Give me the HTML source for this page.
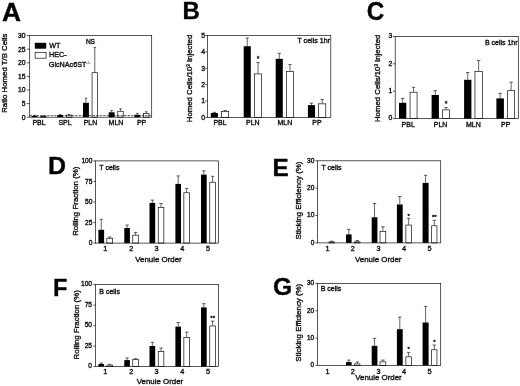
<!DOCTYPE html>
<html lang="en"><head><meta charset="utf-8"><title>Figure</title>
<style>
html,body{margin:0;padding:0;background:#fff;}
body{width:520px;height:386px;overflow:hidden;}
svg{display:block;font-family:"Liberation Sans", Arial, Helvetica, sans-serif;fill:#111;filter:blur(0.35px);}
text{stroke:#111;stroke-width:0.36px;}
</style></head><body>
<svg width="520" height="386" viewBox="0 0 520 386">
<rect x="0" y="0" width="520" height="386" fill="#fff"/>
<line x1="34.55" y1="115.84" x2="34.55" y2="115.30" stroke="#111" stroke-width="0.65" />
<line x1="33.30" y1="115.30" x2="35.80" y2="115.30" stroke="#111" stroke-width="0.65" />
<rect x="31.60" y="115.84" width="5.90" height="1.36" fill="#000"/>
<line x1="43.40" y1="116.11" x2="43.40" y2="115.84" stroke="#111" stroke-width="0.65" />
<line x1="42.15" y1="115.84" x2="44.65" y2="115.84" stroke="#111" stroke-width="0.65" />
<rect x="40.65" y="116.46" width="5.50" height="0.74" fill="#fff" stroke="#111" stroke-width="0.7"/>
<line x1="60.25" y1="115.02" x2="60.25" y2="114.48" stroke="#111" stroke-width="0.65" />
<line x1="59.00" y1="114.48" x2="61.50" y2="114.48" stroke="#111" stroke-width="0.65" />
<rect x="57.30" y="115.02" width="5.90" height="2.18" fill="#000"/>
<line x1="69.10" y1="114.75" x2="69.10" y2="114.48" stroke="#111" stroke-width="0.65" />
<line x1="67.85" y1="114.48" x2="70.35" y2="114.48" stroke="#111" stroke-width="0.65" />
<rect x="66.35" y="115.10" width="5.50" height="2.10" fill="#fff" stroke="#111" stroke-width="0.7"/>
<line x1="85.95" y1="102.78" x2="85.95" y2="98.16" stroke="#111" stroke-width="0.65" />
<line x1="84.70" y1="98.16" x2="87.20" y2="98.16" stroke="#111" stroke-width="0.65" />
<rect x="83.00" y="102.78" width="5.90" height="14.42" fill="#000"/>
<line x1="94.80" y1="72.32" x2="94.80" y2="47.57" stroke="#111" stroke-width="0.65" />
<line x1="93.55" y1="47.57" x2="96.05" y2="47.57" stroke="#111" stroke-width="0.65" />
<rect x="92.05" y="72.67" width="5.50" height="44.53" fill="#fff" stroke="#111" stroke-width="0.7"/>
<line x1="111.65" y1="112.30" x2="111.65" y2="110.40" stroke="#111" stroke-width="0.65" />
<line x1="110.40" y1="110.40" x2="112.90" y2="110.40" stroke="#111" stroke-width="0.65" />
<rect x="108.70" y="112.30" width="5.90" height="4.90" fill="#000"/>
<line x1="120.50" y1="110.94" x2="120.50" y2="108.77" stroke="#111" stroke-width="0.65" />
<line x1="119.25" y1="108.77" x2="121.75" y2="108.77" stroke="#111" stroke-width="0.65" />
<rect x="117.75" y="111.29" width="5.50" height="5.91" fill="#fff" stroke="#111" stroke-width="0.7"/>
<line x1="137.35" y1="114.75" x2="137.35" y2="113.39" stroke="#111" stroke-width="0.65" />
<line x1="136.10" y1="113.39" x2="138.60" y2="113.39" stroke="#111" stroke-width="0.65" />
<rect x="134.40" y="114.75" width="5.90" height="2.45" fill="#000"/>
<line x1="146.20" y1="113.12" x2="146.20" y2="111.76" stroke="#111" stroke-width="0.65" />
<line x1="144.95" y1="111.76" x2="147.45" y2="111.76" stroke="#111" stroke-width="0.65" />
<rect x="143.45" y="113.47" width="5.50" height="3.73" fill="#fff" stroke="#111" stroke-width="0.7"/>
<rect x="29.70" y="35.60" width="122.00" height="81.60" fill="none" stroke="#111" stroke-width="0.7"/>
<line x1="27.00" y1="117.20" x2="29.70" y2="117.20" stroke="#111" stroke-width="0.7" />
<text x="25.50" y="119.55" font-size="6.8" text-anchor="end" font-weight="normal" >0</text>
<line x1="27.00" y1="103.60" x2="29.70" y2="103.60" stroke="#111" stroke-width="0.7" />
<text x="25.50" y="105.95" font-size="6.8" text-anchor="end" font-weight="normal" >5</text>
<line x1="27.00" y1="90.00" x2="29.70" y2="90.00" stroke="#111" stroke-width="0.7" />
<text x="25.50" y="92.35" font-size="6.8" text-anchor="end" font-weight="normal" >10</text>
<line x1="27.00" y1="76.40" x2="29.70" y2="76.40" stroke="#111" stroke-width="0.7" />
<text x="25.50" y="78.75" font-size="6.8" text-anchor="end" font-weight="normal" >15</text>
<line x1="27.00" y1="62.80" x2="29.70" y2="62.80" stroke="#111" stroke-width="0.7" />
<text x="25.50" y="65.15" font-size="6.8" text-anchor="end" font-weight="normal" >20</text>
<line x1="27.00" y1="49.20" x2="29.70" y2="49.20" stroke="#111" stroke-width="0.7" />
<text x="25.50" y="51.55" font-size="6.8" text-anchor="end" font-weight="normal" >25</text>
<line x1="27.00" y1="35.60" x2="29.70" y2="35.60" stroke="#111" stroke-width="0.7" />
<text x="25.50" y="37.95" font-size="6.8" text-anchor="end" font-weight="normal" >30</text>
<text x="39.00" y="125.10" font-size="7" text-anchor="middle" font-weight="normal" >PBL</text>
<text x="65.00" y="125.10" font-size="7" text-anchor="middle" font-weight="normal" >SPL</text>
<text x="90.50" y="125.10" font-size="7" text-anchor="middle" font-weight="normal" >PLN</text>
<text x="116.00" y="125.10" font-size="7" text-anchor="middle" font-weight="normal" >MLN</text>
<text x="141.60" y="125.10" font-size="7" text-anchor="middle" font-weight="normal" >PP</text>
<text x="7.30" y="73.20" font-size="7.8" text-anchor="middle" font-weight="normal" transform="rotate(-90 7.30 73.20)" >Ratio Homed T/B Cells</text>
<text x="90.40" y="44.10" font-size="6.5" text-anchor="middle" font-weight="normal" >NS</text>
<text x="49.20" y="48.10" font-size="7.2" text-anchor="start" font-weight="normal" >WT</text>
<text x="49.00" y="57.40" font-size="7.2" text-anchor="start" font-weight="normal" >HEC-</text>
<text x="48.80" y="67.20" font-size="7.2" text-anchor="start" font-weight="normal" >GlcNAc6ST<tspan font-size="4.3" dy="-3.3" stroke="none">-/-</tspan></text>
<text transform="translate(1.90 20.60) scale(1.036 1)" font-size="25.4" font-weight="bold" fill="#000" stroke="none">A</text>
<line x1="214.35" y1="112.98" x2="214.35" y2="112.33" stroke="#111" stroke-width="0.65" />
<line x1="212.65" y1="112.33" x2="216.05" y2="112.33" stroke="#111" stroke-width="0.65" />
<rect x="210.80" y="112.98" width="7.10" height="4.42" fill="#000"/>
<line x1="225.10" y1="111.18" x2="225.10" y2="110.53" stroke="#111" stroke-width="0.65" />
<line x1="223.40" y1="110.53" x2="226.80" y2="110.53" stroke="#111" stroke-width="0.65" />
<rect x="221.55" y="111.53" width="7.10" height="5.87" fill="#fff" stroke="#111" stroke-width="0.7"/>
<line x1="247.25" y1="46.23" x2="247.25" y2="38.05" stroke="#111" stroke-width="0.65" />
<line x1="245.55" y1="38.05" x2="248.95" y2="38.05" stroke="#111" stroke-width="0.65" />
<rect x="243.70" y="46.23" width="7.10" height="71.17" fill="#000"/>
<line x1="258.00" y1="73.56" x2="258.00" y2="62.59" stroke="#111" stroke-width="0.65" />
<line x1="256.30" y1="62.59" x2="259.70" y2="62.59" stroke="#111" stroke-width="0.65" />
<rect x="254.45" y="73.91" width="7.10" height="43.49" fill="#fff" stroke="#111" stroke-width="0.7"/>
<line x1="279.25" y1="58.83" x2="279.25" y2="53.27" stroke="#111" stroke-width="0.65" />
<line x1="277.55" y1="53.27" x2="280.95" y2="53.27" stroke="#111" stroke-width="0.65" />
<rect x="275.70" y="58.83" width="7.10" height="58.57" fill="#000"/>
<line x1="290.00" y1="71.26" x2="290.00" y2="64.56" stroke="#111" stroke-width="0.65" />
<line x1="288.30" y1="64.56" x2="291.70" y2="64.56" stroke="#111" stroke-width="0.65" />
<rect x="286.45" y="71.61" width="7.10" height="45.79" fill="#fff" stroke="#111" stroke-width="0.7"/>
<line x1="311.45" y1="105.13" x2="311.45" y2="103.17" stroke="#111" stroke-width="0.65" />
<line x1="309.75" y1="103.17" x2="313.15" y2="103.17" stroke="#111" stroke-width="0.65" />
<rect x="307.90" y="105.13" width="7.10" height="12.27" fill="#000"/>
<line x1="322.20" y1="103.49" x2="322.20" y2="99.40" stroke="#111" stroke-width="0.65" />
<line x1="320.50" y1="99.40" x2="323.90" y2="99.40" stroke="#111" stroke-width="0.65" />
<rect x="318.65" y="103.84" width="7.10" height="13.56" fill="#fff" stroke="#111" stroke-width="0.7"/>
<rect x="207.50" y="35.60" width="123.30" height="81.80" fill="none" stroke="#111" stroke-width="0.7"/>
<line x1="205.20" y1="117.40" x2="207.50" y2="117.40" stroke="#111" stroke-width="0.7" />
<text x="205.00" y="119.75" font-size="6.8" text-anchor="end" font-weight="normal" >0</text>
<line x1="205.20" y1="101.04" x2="207.50" y2="101.04" stroke="#111" stroke-width="0.7" />
<text x="205.00" y="103.39" font-size="6.8" text-anchor="end" font-weight="normal" >1</text>
<line x1="205.20" y1="84.68" x2="207.50" y2="84.68" stroke="#111" stroke-width="0.7" />
<text x="205.00" y="87.03" font-size="6.8" text-anchor="end" font-weight="normal" >2</text>
<line x1="205.20" y1="68.32" x2="207.50" y2="68.32" stroke="#111" stroke-width="0.7" />
<text x="205.00" y="70.67" font-size="6.8" text-anchor="end" font-weight="normal" >3</text>
<line x1="205.20" y1="51.96" x2="207.50" y2="51.96" stroke="#111" stroke-width="0.7" />
<text x="205.00" y="54.31" font-size="6.8" text-anchor="end" font-weight="normal" >4</text>
<line x1="205.20" y1="35.60" x2="207.50" y2="35.60" stroke="#111" stroke-width="0.7" />
<text x="205.00" y="37.95" font-size="6.8" text-anchor="end" font-weight="normal" >5</text>
<text x="220.00" y="125.10" font-size="7" text-anchor="middle" font-weight="normal" >PBL</text>
<text x="252.80" y="125.10" font-size="7" text-anchor="middle" font-weight="normal" >PLN</text>
<text x="284.80" y="125.10" font-size="7" text-anchor="middle" font-weight="normal" >MLN</text>
<text x="317.00" y="125.10" font-size="7" text-anchor="middle" font-weight="normal" >PP</text>
<text x="192.30" y="78.50" font-size="7.8" text-anchor="middle" font-weight="normal" transform="rotate(-90 192.30 78.50)" >Homed Cells/10<tspan font-size="4.5" dy="-2.6">3</tspan><tspan dy="2.6"> Injected</tspan></text>
<text x="330.00" y="42.60" font-size="7.1" text-anchor="end" font-weight="normal" >T cells 1hr</text>
<text x="258.00" y="60.80" font-size="7" text-anchor="middle" font-weight="normal" >*</text>
<text transform="translate(182.50 18.60) scale(0.97 1)" font-size="24.8" font-weight="bold" fill="#000" stroke="none">B</text>
<line x1="402.65" y1="102.80" x2="402.65" y2="98.40" stroke="#111" stroke-width="0.65" />
<line x1="400.95" y1="98.40" x2="404.35" y2="98.40" stroke="#111" stroke-width="0.65" />
<rect x="399.00" y="102.80" width="7.30" height="15.80" fill="#000"/>
<line x1="413.55" y1="91.90" x2="413.55" y2="87.30" stroke="#111" stroke-width="0.65" />
<line x1="411.85" y1="87.30" x2="415.25" y2="87.30" stroke="#111" stroke-width="0.65" />
<rect x="410.05" y="92.25" width="7.00" height="26.35" fill="#fff" stroke="#111" stroke-width="0.7"/>
<line x1="435.25" y1="95.00" x2="435.25" y2="90.70" stroke="#111" stroke-width="0.65" />
<line x1="433.55" y1="90.70" x2="436.95" y2="90.70" stroke="#111" stroke-width="0.65" />
<rect x="431.60" y="95.00" width="7.30" height="23.60" fill="#000"/>
<line x1="446.00" y1="109.50" x2="446.00" y2="107.50" stroke="#111" stroke-width="0.65" />
<line x1="444.30" y1="107.50" x2="447.70" y2="107.50" stroke="#111" stroke-width="0.65" />
<rect x="442.65" y="109.85" width="6.70" height="8.75" fill="#fff" stroke="#111" stroke-width="0.7"/>
<line x1="467.75" y1="79.80" x2="467.75" y2="72.50" stroke="#111" stroke-width="0.65" />
<line x1="466.05" y1="72.50" x2="469.45" y2="72.50" stroke="#111" stroke-width="0.65" />
<rect x="464.10" y="79.80" width="7.30" height="38.80" fill="#000"/>
<line x1="478.65" y1="71.10" x2="478.65" y2="60.40" stroke="#111" stroke-width="0.65" />
<line x1="476.95" y1="60.40" x2="480.35" y2="60.40" stroke="#111" stroke-width="0.65" />
<rect x="474.95" y="71.45" width="7.40" height="47.15" fill="#fff" stroke="#111" stroke-width="0.7"/>
<line x1="500.15" y1="98.40" x2="500.15" y2="93.30" stroke="#111" stroke-width="0.65" />
<line x1="498.45" y1="93.30" x2="501.85" y2="93.30" stroke="#111" stroke-width="0.65" />
<rect x="496.40" y="98.40" width="7.50" height="20.20" fill="#000"/>
<line x1="511.15" y1="90.30" x2="511.15" y2="82.20" stroke="#111" stroke-width="0.65" />
<line x1="509.45" y1="82.20" x2="512.85" y2="82.20" stroke="#111" stroke-width="0.65" />
<rect x="507.65" y="90.65" width="7.00" height="27.95" fill="#fff" stroke="#111" stroke-width="0.7"/>
<rect x="395.20" y="36.40" width="123.10" height="82.20" fill="none" stroke="#111" stroke-width="0.7"/>
<line x1="392.90" y1="118.60" x2="395.20" y2="118.60" stroke="#111" stroke-width="0.7" />
<text x="392.30" y="120.30" font-size="6.8" text-anchor="end" font-weight="normal" >0</text>
<line x1="392.90" y1="91.20" x2="395.20" y2="91.20" stroke="#111" stroke-width="0.7" />
<text x="392.30" y="92.90" font-size="6.8" text-anchor="end" font-weight="normal" >1</text>
<line x1="392.90" y1="63.80" x2="395.20" y2="63.80" stroke="#111" stroke-width="0.7" />
<text x="392.30" y="65.50" font-size="6.8" text-anchor="end" font-weight="normal" >2</text>
<line x1="392.90" y1="36.40" x2="395.20" y2="36.40" stroke="#111" stroke-width="0.7" />
<text x="392.30" y="38.10" font-size="6.8" text-anchor="end" font-weight="normal" >3</text>
<text x="408.20" y="126.60" font-size="7" text-anchor="middle" font-weight="normal" >PBL</text>
<text x="440.60" y="126.60" font-size="7" text-anchor="middle" font-weight="normal" >PLN</text>
<text x="473.40" y="126.60" font-size="7" text-anchor="middle" font-weight="normal" >MLN</text>
<text x="505.70" y="126.60" font-size="7" text-anchor="middle" font-weight="normal" >PP</text>
<text x="380.50" y="78.30" font-size="7.8" text-anchor="middle" font-weight="normal" transform="rotate(-90 380.50 78.30)" >Homed Cells/10<tspan font-size="4.5" dy="-2.6">3</tspan><tspan dy="2.6"> Injected</tspan></text>
<text x="517.60" y="44.50" font-size="7.0" text-anchor="end" font-weight="normal" >B cells 1hr</text>
<text x="446.00" y="105.50" font-size="7" text-anchor="middle" font-weight="normal" >*</text>
<text transform="translate(366.80 19.70) scale(0.955 1)" font-size="25.4" font-weight="bold" fill="#000" stroke="none">C</text>
<line x1="101.25" y1="229.80" x2="101.25" y2="219.30" stroke="#111" stroke-width="0.65" />
<line x1="99.55" y1="219.30" x2="102.95" y2="219.30" stroke="#111" stroke-width="0.65" />
<rect x="98.40" y="229.80" width="5.70" height="13.30" fill="#000"/>
<line x1="109.75" y1="237.90" x2="109.75" y2="237.00" stroke="#111" stroke-width="0.65" />
<line x1="108.05" y1="237.00" x2="111.45" y2="237.00" stroke="#111" stroke-width="0.65" />
<rect x="106.85" y="238.25" width="5.80" height="4.85" fill="#fff" stroke="#111" stroke-width="0.7"/>
<line x1="127.10" y1="228.00" x2="127.10" y2="225.00" stroke="#111" stroke-width="0.65" />
<line x1="125.40" y1="225.00" x2="128.80" y2="225.00" stroke="#111" stroke-width="0.65" />
<rect x="124.30" y="228.00" width="5.60" height="15.10" fill="#000"/>
<line x1="135.60" y1="234.80" x2="135.60" y2="232.40" stroke="#111" stroke-width="0.65" />
<line x1="133.90" y1="232.40" x2="137.30" y2="232.40" stroke="#111" stroke-width="0.65" />
<rect x="132.75" y="235.15" width="5.70" height="7.95" fill="#fff" stroke="#111" stroke-width="0.7"/>
<line x1="152.35" y1="202.90" x2="152.35" y2="200.10" stroke="#111" stroke-width="0.65" />
<line x1="150.65" y1="200.10" x2="154.05" y2="200.10" stroke="#111" stroke-width="0.65" />
<rect x="149.50" y="202.90" width="5.70" height="40.20" fill="#000"/>
<line x1="161.05" y1="207.20" x2="161.05" y2="203.50" stroke="#111" stroke-width="0.65" />
<line x1="159.35" y1="203.50" x2="162.75" y2="203.50" stroke="#111" stroke-width="0.65" />
<rect x="158.25" y="207.55" width="5.60" height="35.55" fill="#fff" stroke="#111" stroke-width="0.7"/>
<line x1="178.20" y1="183.90" x2="178.20" y2="175.90" stroke="#111" stroke-width="0.65" />
<line x1="176.50" y1="175.90" x2="179.90" y2="175.90" stroke="#111" stroke-width="0.65" />
<rect x="175.40" y="183.90" width="5.60" height="59.20" fill="#000"/>
<line x1="186.70" y1="192.40" x2="186.70" y2="188.40" stroke="#111" stroke-width="0.65" />
<line x1="185.00" y1="188.40" x2="188.40" y2="188.40" stroke="#111" stroke-width="0.65" />
<rect x="183.85" y="192.75" width="5.70" height="50.35" fill="#fff" stroke="#111" stroke-width="0.7"/>
<line x1="203.85" y1="174.60" x2="203.85" y2="170.80" stroke="#111" stroke-width="0.65" />
<line x1="202.15" y1="170.80" x2="205.55" y2="170.80" stroke="#111" stroke-width="0.65" />
<rect x="201.00" y="174.60" width="5.70" height="68.50" fill="#000"/>
<line x1="212.60" y1="181.90" x2="212.60" y2="176.30" stroke="#111" stroke-width="0.65" />
<line x1="210.90" y1="176.30" x2="214.30" y2="176.30" stroke="#111" stroke-width="0.65" />
<rect x="209.75" y="182.25" width="5.70" height="60.85" fill="#fff" stroke="#111" stroke-width="0.7"/>
<rect x="95.50" y="160.90" width="123.00" height="82.20" fill="none" stroke="#111" stroke-width="0.7"/>
<line x1="93.40" y1="243.10" x2="95.50" y2="243.10" stroke="#111" stroke-width="0.7" />
<text x="92.40" y="245.45" font-size="6.6" text-anchor="end" font-weight="normal" >0</text>
<line x1="93.40" y1="222.55" x2="95.50" y2="222.55" stroke="#111" stroke-width="0.7" />
<text x="92.40" y="224.90" font-size="6.6" text-anchor="end" font-weight="normal" >25</text>
<line x1="93.40" y1="202.00" x2="95.50" y2="202.00" stroke="#111" stroke-width="0.7" />
<text x="92.40" y="204.35" font-size="6.6" text-anchor="end" font-weight="normal" >50</text>
<line x1="93.40" y1="181.45" x2="95.50" y2="181.45" stroke="#111" stroke-width="0.7" />
<text x="92.40" y="183.80" font-size="6.6" text-anchor="end" font-weight="normal" >75</text>
<line x1="93.40" y1="160.90" x2="95.50" y2="160.90" stroke="#111" stroke-width="0.7" />
<text x="92.40" y="163.25" font-size="6.6" text-anchor="end" font-weight="normal" >100</text>
<text x="105.40" y="251.20" font-size="7.3" text-anchor="middle" font-weight="normal" >1</text>
<text x="131.25" y="251.20" font-size="7.3" text-anchor="middle" font-weight="normal" >2</text>
<text x="156.55" y="251.20" font-size="7.3" text-anchor="middle" font-weight="normal" >3</text>
<text x="182.35" y="251.20" font-size="7.3" text-anchor="middle" font-weight="normal" >4</text>
<text x="208.10" y="251.20" font-size="7.3" text-anchor="middle" font-weight="normal" >5</text>
<text x="78.10" y="201.20" font-size="7.9" text-anchor="middle" font-weight="normal" transform="rotate(-90 78.10 201.20)" >Rolling Fraction (%)</text>
<text x="158.50" y="261.90" font-size="7.9" text-anchor="middle" font-weight="normal" >Venule Order</text>
<text x="99.30" y="169.60" font-size="7.0" text-anchor="start" font-weight="normal" >T cells</text>
<text transform="translate(48.00 174.40) scale(1.027 1)" font-size="24.3" font-weight="bold" fill="#000" stroke="none">D</text>
<line x1="101.25" y1="364.00" x2="101.25" y2="363.00" stroke="#111" stroke-width="0.65" />
<line x1="99.55" y1="363.00" x2="102.95" y2="363.00" stroke="#111" stroke-width="0.65" />
<rect x="98.40" y="364.00" width="5.70" height="2.60" fill="#000"/>
<line x1="109.75" y1="364.80" x2="109.75" y2="364.30" stroke="#111" stroke-width="0.65" />
<line x1="108.05" y1="364.30" x2="111.45" y2="364.30" stroke="#111" stroke-width="0.65" />
<rect x="106.85" y="365.15" width="5.80" height="1.45" fill="#fff" stroke="#111" stroke-width="0.7"/>
<line x1="127.10" y1="360.10" x2="127.10" y2="357.90" stroke="#111" stroke-width="0.65" />
<line x1="125.40" y1="357.90" x2="128.80" y2="357.90" stroke="#111" stroke-width="0.65" />
<rect x="124.30" y="360.10" width="5.60" height="6.50" fill="#000"/>
<line x1="135.60" y1="359.30" x2="135.60" y2="358.70" stroke="#111" stroke-width="0.65" />
<line x1="133.90" y1="358.70" x2="137.30" y2="358.70" stroke="#111" stroke-width="0.65" />
<rect x="132.75" y="359.65" width="5.70" height="6.95" fill="#fff" stroke="#111" stroke-width="0.7"/>
<line x1="152.35" y1="346.00" x2="152.35" y2="342.30" stroke="#111" stroke-width="0.65" />
<line x1="150.65" y1="342.30" x2="154.05" y2="342.30" stroke="#111" stroke-width="0.65" />
<rect x="149.50" y="346.00" width="5.70" height="20.60" fill="#000"/>
<line x1="161.05" y1="351.00" x2="161.05" y2="348.00" stroke="#111" stroke-width="0.65" />
<line x1="159.35" y1="348.00" x2="162.75" y2="348.00" stroke="#111" stroke-width="0.65" />
<rect x="158.25" y="351.35" width="5.60" height="15.25" fill="#fff" stroke="#111" stroke-width="0.7"/>
<line x1="178.20" y1="326.60" x2="178.20" y2="322.50" stroke="#111" stroke-width="0.65" />
<line x1="176.50" y1="322.50" x2="179.90" y2="322.50" stroke="#111" stroke-width="0.65" />
<rect x="175.40" y="326.60" width="5.60" height="40.00" fill="#000"/>
<line x1="186.70" y1="337.30" x2="186.70" y2="332.20" stroke="#111" stroke-width="0.65" />
<line x1="185.00" y1="332.20" x2="188.40" y2="332.20" stroke="#111" stroke-width="0.65" />
<rect x="183.85" y="337.65" width="5.70" height="28.95" fill="#fff" stroke="#111" stroke-width="0.7"/>
<line x1="203.85" y1="307.40" x2="203.85" y2="303.70" stroke="#111" stroke-width="0.65" />
<line x1="202.15" y1="303.70" x2="205.55" y2="303.70" stroke="#111" stroke-width="0.65" />
<rect x="201.00" y="307.40" width="5.70" height="59.20" fill="#000"/>
<line x1="212.60" y1="325.60" x2="212.60" y2="321.10" stroke="#111" stroke-width="0.65" />
<line x1="210.90" y1="321.10" x2="214.30" y2="321.10" stroke="#111" stroke-width="0.65" />
<rect x="209.75" y="325.95" width="5.70" height="40.65" fill="#fff" stroke="#111" stroke-width="0.7"/>
<rect x="95.50" y="284.60" width="123.00" height="82.00" fill="none" stroke="#111" stroke-width="0.7"/>
<line x1="93.40" y1="366.60" x2="95.50" y2="366.60" stroke="#111" stroke-width="0.7" />
<text x="92.00" y="368.20" font-size="6.6" text-anchor="end" font-weight="normal" >0</text>
<line x1="93.40" y1="346.10" x2="95.50" y2="346.10" stroke="#111" stroke-width="0.7" />
<text x="92.00" y="347.70" font-size="6.6" text-anchor="end" font-weight="normal" >25</text>
<line x1="93.40" y1="325.60" x2="95.50" y2="325.60" stroke="#111" stroke-width="0.7" />
<text x="92.00" y="327.20" font-size="6.6" text-anchor="end" font-weight="normal" >50</text>
<line x1="93.40" y1="305.10" x2="95.50" y2="305.10" stroke="#111" stroke-width="0.7" />
<text x="92.00" y="306.70" font-size="6.6" text-anchor="end" font-weight="normal" >75</text>
<line x1="93.40" y1="284.60" x2="95.50" y2="284.60" stroke="#111" stroke-width="0.7" />
<text x="92.00" y="286.20" font-size="6.6" text-anchor="end" font-weight="normal" >100</text>
<text x="105.40" y="374.30" font-size="7.3" text-anchor="middle" font-weight="normal" >1</text>
<text x="131.25" y="374.30" font-size="7.3" text-anchor="middle" font-weight="normal" >2</text>
<text x="156.55" y="374.30" font-size="7.3" text-anchor="middle" font-weight="normal" >3</text>
<text x="182.35" y="374.30" font-size="7.3" text-anchor="middle" font-weight="normal" >4</text>
<text x="208.10" y="374.30" font-size="7.3" text-anchor="middle" font-weight="normal" >5</text>
<text x="79.20" y="324.80" font-size="7.9" text-anchor="middle" font-weight="normal" transform="rotate(-90 79.20 324.80)" >Rolling Fraction (%)</text>
<text x="160.00" y="383.90" font-size="7.9" text-anchor="middle" font-weight="normal" >Venule Order</text>
<text x="212.70" y="319.50" font-size="6" text-anchor="middle" font-weight="normal" >**</text>
<text x="99.30" y="294.40" font-size="7.0" text-anchor="start" font-weight="normal" >B cells</text>
<text transform="translate(53.00 295.60) scale(0.97 1)" font-size="24.4" font-weight="bold" fill="#000" stroke="none">F</text>
<line x1="331.70" y1="241.60" x2="331.70" y2="241.20" stroke="#111" stroke-width="0.65" />
<line x1="330.00" y1="241.20" x2="333.40" y2="241.20" stroke="#111" stroke-width="0.65" />
<rect x="328.95" y="241.95" width="5.50" height="0.95" fill="#fff" stroke="#111" stroke-width="0.7"/>
<line x1="348.80" y1="234.40" x2="348.80" y2="229.40" stroke="#111" stroke-width="0.65" />
<line x1="347.10" y1="229.40" x2="350.50" y2="229.40" stroke="#111" stroke-width="0.65" />
<rect x="346.00" y="234.40" width="5.60" height="8.50" fill="#000"/>
<line x1="357.30" y1="241.50" x2="357.30" y2="240.50" stroke="#111" stroke-width="0.65" />
<line x1="355.60" y1="240.50" x2="359.00" y2="240.50" stroke="#111" stroke-width="0.65" />
<rect x="354.65" y="241.85" width="5.30" height="1.05" fill="#fff" stroke="#111" stroke-width="0.7"/>
<line x1="374.55" y1="217.30" x2="374.55" y2="203.50" stroke="#111" stroke-width="0.65" />
<line x1="372.85" y1="203.50" x2="376.25" y2="203.50" stroke="#111" stroke-width="0.65" />
<rect x="371.70" y="217.30" width="5.70" height="25.60" fill="#000"/>
<line x1="382.90" y1="231.00" x2="382.90" y2="226.80" stroke="#111" stroke-width="0.65" />
<line x1="381.20" y1="226.80" x2="384.60" y2="226.80" stroke="#111" stroke-width="0.65" />
<rect x="380.05" y="231.35" width="5.70" height="11.55" fill="#fff" stroke="#111" stroke-width="0.7"/>
<line x1="399.80" y1="204.50" x2="399.80" y2="196.50" stroke="#111" stroke-width="0.65" />
<line x1="398.10" y1="196.50" x2="401.50" y2="196.50" stroke="#111" stroke-width="0.65" />
<rect x="396.90" y="204.50" width="5.80" height="38.40" fill="#000"/>
<line x1="408.65" y1="224.70" x2="408.65" y2="218.30" stroke="#111" stroke-width="0.65" />
<line x1="406.95" y1="218.30" x2="410.35" y2="218.30" stroke="#111" stroke-width="0.65" />
<rect x="405.85" y="225.05" width="5.60" height="17.85" fill="#fff" stroke="#111" stroke-width="0.7"/>
<line x1="425.60" y1="182.90" x2="425.60" y2="175.30" stroke="#111" stroke-width="0.65" />
<line x1="423.90" y1="175.30" x2="427.30" y2="175.30" stroke="#111" stroke-width="0.65" />
<rect x="422.60" y="182.90" width="6.00" height="60.00" fill="#000"/>
<line x1="434.30" y1="225.40" x2="434.30" y2="220.30" stroke="#111" stroke-width="0.65" />
<line x1="432.60" y1="220.30" x2="436.00" y2="220.30" stroke="#111" stroke-width="0.65" />
<rect x="431.65" y="225.75" width="5.30" height="17.15" fill="#fff" stroke="#111" stroke-width="0.7"/>
<rect x="317.50" y="160.80" width="123.20" height="82.10" fill="none" stroke="#111" stroke-width="0.7"/>
<line x1="315.40" y1="242.90" x2="317.50" y2="242.90" stroke="#111" stroke-width="0.7" />
<text x="314.40" y="244.70" font-size="6.6" text-anchor="end" font-weight="normal" >0</text>
<line x1="315.40" y1="215.53" x2="317.50" y2="215.53" stroke="#111" stroke-width="0.7" />
<text x="314.40" y="217.33" font-size="6.6" text-anchor="end" font-weight="normal" >10</text>
<line x1="315.40" y1="188.17" x2="317.50" y2="188.17" stroke="#111" stroke-width="0.7" />
<text x="314.40" y="189.97" font-size="6.6" text-anchor="end" font-weight="normal" >20</text>
<line x1="315.40" y1="160.80" x2="317.50" y2="160.80" stroke="#111" stroke-width="0.7" />
<text x="314.40" y="162.60" font-size="6.6" text-anchor="end" font-weight="normal" >30</text>
<text x="327.50" y="251.20" font-size="7.3" text-anchor="middle" font-weight="normal" >1</text>
<text x="352.85" y="251.20" font-size="7.3" text-anchor="middle" font-weight="normal" >2</text>
<text x="378.60" y="251.20" font-size="7.3" text-anchor="middle" font-weight="normal" >3</text>
<text x="404.05" y="251.20" font-size="7.3" text-anchor="middle" font-weight="normal" >4</text>
<text x="429.65" y="251.20" font-size="7.3" text-anchor="middle" font-weight="normal" >5</text>
<text x="300.50" y="200.50" font-size="7.9" text-anchor="middle" font-weight="normal" transform="rotate(-90 300.50 200.50)" >Sticking Efficiency (%)</text>
<text x="378.20" y="261.90" font-size="7.9" text-anchor="middle" font-weight="normal" >Venule Order</text>
<text x="408.70" y="217.50" font-size="6" text-anchor="middle" font-weight="normal" >*</text>
<text x="434.30" y="218.70" font-size="6" text-anchor="middle" font-weight="normal" >**</text>
<text x="321.40" y="170.20" font-size="7.0" text-anchor="start" font-weight="normal" >T cells</text>
<text transform="translate(272.50 176.30) scale(1.01 1)" font-size="24.1" font-weight="bold" fill="#000" stroke="none">E</text>
<line x1="348.80" y1="362.10" x2="348.80" y2="360.10" stroke="#111" stroke-width="0.65" />
<line x1="347.10" y1="360.10" x2="350.50" y2="360.10" stroke="#111" stroke-width="0.65" />
<rect x="346.00" y="362.10" width="5.60" height="3.30" fill="#000"/>
<line x1="357.30" y1="363.60" x2="357.30" y2="362.00" stroke="#111" stroke-width="0.65" />
<line x1="355.60" y1="362.00" x2="359.00" y2="362.00" stroke="#111" stroke-width="0.65" />
<rect x="354.65" y="363.95" width="5.30" height="1.45" fill="#fff" stroke="#111" stroke-width="0.7"/>
<line x1="374.55" y1="345.80" x2="374.55" y2="338.30" stroke="#111" stroke-width="0.65" />
<line x1="372.85" y1="338.30" x2="376.25" y2="338.30" stroke="#111" stroke-width="0.65" />
<rect x="371.70" y="345.80" width="5.70" height="19.60" fill="#000"/>
<line x1="382.90" y1="361.50" x2="382.90" y2="360.10" stroke="#111" stroke-width="0.65" />
<line x1="381.20" y1="360.10" x2="384.60" y2="360.10" stroke="#111" stroke-width="0.65" />
<rect x="380.05" y="361.85" width="5.70" height="3.55" fill="#fff" stroke="#111" stroke-width="0.7"/>
<line x1="399.80" y1="329.20" x2="399.80" y2="317.10" stroke="#111" stroke-width="0.65" />
<line x1="398.10" y1="317.10" x2="401.50" y2="317.10" stroke="#111" stroke-width="0.65" />
<rect x="396.90" y="329.20" width="5.80" height="36.20" fill="#000"/>
<line x1="408.65" y1="356.50" x2="408.65" y2="352.40" stroke="#111" stroke-width="0.65" />
<line x1="406.95" y1="352.40" x2="410.35" y2="352.40" stroke="#111" stroke-width="0.65" />
<rect x="405.85" y="356.85" width="5.60" height="8.55" fill="#fff" stroke="#111" stroke-width="0.7"/>
<line x1="425.60" y1="322.50" x2="425.60" y2="306.40" stroke="#111" stroke-width="0.65" />
<line x1="423.90" y1="306.40" x2="427.30" y2="306.40" stroke="#111" stroke-width="0.65" />
<rect x="422.60" y="322.50" width="6.00" height="42.90" fill="#000"/>
<line x1="434.30" y1="349.40" x2="434.30" y2="345.00" stroke="#111" stroke-width="0.65" />
<line x1="432.60" y1="345.00" x2="436.00" y2="345.00" stroke="#111" stroke-width="0.65" />
<rect x="431.65" y="349.75" width="5.30" height="15.65" fill="#fff" stroke="#111" stroke-width="0.7"/>
<rect x="317.50" y="283.40" width="123.20" height="82.00" fill="none" stroke="#111" stroke-width="0.7"/>
<line x1="315.40" y1="365.40" x2="317.50" y2="365.40" stroke="#111" stroke-width="0.7" />
<text x="313.90" y="367.40" font-size="6.3" text-anchor="end" font-weight="normal" >0</text>
<line x1="315.40" y1="338.07" x2="317.50" y2="338.07" stroke="#111" stroke-width="0.7" />
<text x="313.90" y="340.07" font-size="6.3" text-anchor="end" font-weight="normal" >10</text>
<line x1="315.40" y1="310.73" x2="317.50" y2="310.73" stroke="#111" stroke-width="0.7" />
<text x="313.90" y="312.73" font-size="6.3" text-anchor="end" font-weight="normal" >20</text>
<line x1="315.40" y1="283.40" x2="317.50" y2="283.40" stroke="#111" stroke-width="0.7" />
<text x="313.90" y="285.40" font-size="6.3" text-anchor="end" font-weight="normal" >30</text>
<text x="327.50" y="373.70" font-size="7.3" text-anchor="middle" font-weight="normal" >1</text>
<text x="352.85" y="373.70" font-size="7.3" text-anchor="middle" font-weight="normal" >2</text>
<text x="378.60" y="373.70" font-size="7.3" text-anchor="middle" font-weight="normal" >3</text>
<text x="404.05" y="373.70" font-size="7.3" text-anchor="middle" font-weight="normal" >4</text>
<text x="429.65" y="373.70" font-size="7.3" text-anchor="middle" font-weight="normal" >5</text>
<text x="300.80" y="322.70" font-size="7.9" text-anchor="middle" font-weight="normal" transform="rotate(-90 300.80 322.70)" >Sticking Efficiency (%)</text>
<text x="378.50" y="380.20" font-size="7.9" text-anchor="middle" font-weight="normal" >Venule Order</text>
<text x="408.70" y="351.20" font-size="6" text-anchor="middle" font-weight="normal" >*</text>
<text x="434.30" y="344.00" font-size="6" text-anchor="middle" font-weight="normal" >*</text>
<text x="320.70" y="291.40" font-size="7.0" text-anchor="start" font-weight="normal" >B cells</text>
<text transform="translate(273.00 294.90) scale(0.997 1)" font-size="24.7" font-weight="bold" fill="#000" stroke="none">G</text>
<rect x="34.8" y="42.8" width="11.4" height="5.9" fill="#000"/>
<rect x="35.15" y="52.6" width="10.9" height="5.6" fill="#fff" stroke="#111" stroke-width="0.7"/>
<line x1="29.7" y1="115.6" x2="151.7" y2="115.6" stroke="#111" stroke-width="0.7" stroke-dasharray="2.2 1.3"/>
</svg>
</body></html>
